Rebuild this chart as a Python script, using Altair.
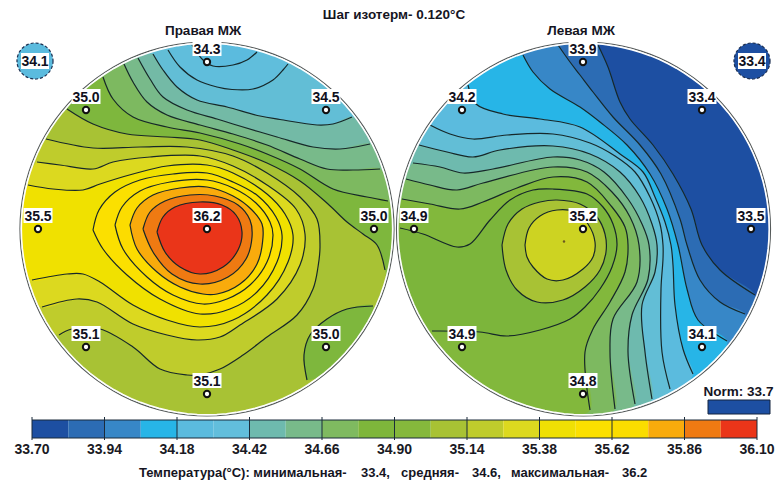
import math
import altair as alt
import pandas as pd

# ---- colour scale of the bar (20 cells, 33.70 .. 36.10, step 0.12)
BAR_COLORS = ["#1d4fa2", "#2c6cb4", "#3787c7", "#27b5e7", "#5bbbde", "#62bedc", "#6ebaae", "#78ba8a",
              "#7fba60", "#7eb63b", "#85b83c", "#a8c234", "#bfcc2c", "#dcd91f", "#efe004", "#fbe000",
              "#fadd00", "#f9ab0c", "#ef7a12", "#ea3519"]
BAR_TICKS = ["33.70", "33.94", "34.18", "34.42", "34.66", "34.90", "35.14", "35.38", "35.62", "35.86", "36.10"]

# ---- head outlines: centre x, centre y, radius
HEAD_L = (207, 227, 185.5)
HEAD_R = (583.5, 227, 185.5)

# ---- isotherms of the left disc
LA = [(192,43),(203,58),(213,64),(233,63),(247,58),(257,50)]
LB = [(168,48),(180,65),(197,78),(217,85),(232,87.5),(253,87),(273,78),(283,68),(288,62)]
LC = [(153,52),(163,68),(177,85),(197,98),(227,105),(260,114),(280,117.5),(317,123),(333,122),(352,115)]
LD = [(138,56),(150,77),(163,95),(187,108),(217,117),(233,122),(277,135),(313,145),(340,147),(370,142)]
LE = [(124,62),(133,80),(147,100),(167,113),(200,123),(233,132),(267,143),(300,157),(327,167),(353,168),(380,167)]
LF = [(103,75),(113,97),(133,115),(167,125),(200,131),(240,142),(267,152),(300,167),(333,187),(367,195),(388,199)]
LG = [(67,107),(93,122),(127,132),(167,135),(200,138),(233,148),(267,161),(300,179),(328,202),(347,220),(363,232),(377,243),(385,268)]
LH = [(46,137),(93,146),(140,145),(187,145),(233,154),(267,171),(300,195),(317,217),(320,245),(318,265),(313,287),(297,313),(267,335),(243,353),(220,367),(200,373),(187,373),(160,367),(133,345),(100,327),(72,327),(59,333)]
LI = [(37,160),(60,163),(93,167),(113,160),(150,155),(200,154),(233,164),(267,183),(296,207),(305,232),(300,263),(277,297),(240,323),(220,335),(197,338),(167,333),(133,322),(97,300),(77,297),(42,305)]
LJ = [(28,183),(53,187),(83,188),(100,182),(133,172),(167,164),(207,163),(233,171),(267,192),(285,212),(293,233),(288,260),(267,293),(233,318),(200,325),(167,318),(133,303),(100,280),(83,272),(67,272),(32,278)]
LK = [(93,228),(99,208),(115,190),(140,178),(173,172),(207,171),(233,180),(258,194),(276,215),(282,233),(277,260),(257,290),(230,307),(200,312),(160,297),(127,273),(103,247),(93,228)]
LL = [(115,223),(122,205),(140,189),(170,180),(207,178),(233,186),(256,201),(270,220),(273,233),(267,260),(250,283),(227,297),(203,302),(173,293),(147,275),(123,247),(115,223)]
LM = [(130,223),(137,206),(153,193),(180,186),(207,185),(233,194),(252,208),(262,222),(263,235),(257,262),(240,282),(217,292),(203,292),(180,285),(157,270),(137,247),(130,223)]
LN = [(143,227),(150,210),(165,199),(190,193),(215,194),(238,203),(250,218),(252,235),(246,257),(228,275),(200,282),(172,272),(153,250),(143,227)]
LO = [(157,230),(163,215),(175,205),(200,200),(222,203),(236,213),(242,230),(238,248),(223,265),(200,272),(180,265),(165,250),(157,230)]
LP = [(307,378),(304,353),(310,333),(327,317),(347,307),(373,304)]

# ---- isotherms of the right disc
RP = [(598,43),(608,65),(620,100),(630,117),(653,143),(673,172),(691,207),(702,243),(720,268),(755,293)]
RQ = [(558,43),(570,60),(580,73),(593,90),(613,115),(640,143),(661,172),(680,217),(687,243),(700,278),(720,300),(745,312)]
RR = [(523,53),(533,70),(550,87),(580,105),(600,120),(627,143),(650,172),(667,207),(678,243),(687,287),(698,318),(727,339)]
RS = [(468,83),(476,102),(503,112),(540,117),(580,125),(620,152),(643,170),(655,195),(665,220),(671,243),(673,263),(675,303),(683,347),(693,372)]
RT = [(430,123),(450,132),(473,137),(507,133),(553,132),(590,141),(615,154),(635,170),(650,195),(660,222),(663,243),(663,257),(661,287),(662,350),(670,387)]
RU = [(419,143),(447,150),(473,155),(500,148),(553,144),(590,152),(620,170),(640,195),(652,222),(657,243),(655,270),(642,303),(645,350),(652,397)]
RV = [(413,161),(440,165),(463,171),(493,167),(553,155),(580,158),(604,170),(628,197),(642,222),(649,243),(648,277),(632,313),(628,350),(635,402)]
RW = [(406,177),(430,183),(457,188),(483,181),(553,165),(587,170),(612,190),(630,215),(639,243),(637,280),(613,317),(610,350),(615,407)]
RX = [(402,197),(430,202),(460,207),(483,200),(517,186),(553,175),(587,180),(612,205),(625,225),(628,243),(625,270),(610,300),(593,327),(585,350),(590,408)]
RY = [(400,226),(423,232),(457,245),(470,242),(490,218),(510,198),(533,188),(553,187),(587,192),(603,205),(613,222),(617,243),(612,265),(600,287),(585,305),(570,317),(540,328),(507,334),(480,330),(432,329)]
RZ = [(502,243),(508,222),(522,207),(540,200),(557,198),(580,202),(597,215),(605,232),(606,250),(600,268),(585,285),(563,298),(537,300),(517,288),(506,268),(502,243)]
RI = [(525,243),(529,226),(540,214),(557,208),(575,210),(588,222),(595,240),(593,255),(583,267),(563,278),(547,277),(533,265),(527,255),(525,243)]

# (isotherm, colour of the side it encloses), painted in order
BANDS_L = [(LA,"#60bedc"),(LB,"#62bed6"),(LC,"#73baa6"),(LD,"#78ba8a"),(LE,"#7db960"),(LF,"#7eb73d"),
           (LG,"#a8c234"),(LH,"#bfcc2c"),(LI,"#dcd91f"),(LJ,"#f0e100"),(LK,"#fbe000"),(LL,"#fcdc00"),
           (LM,"#f9ab0c"),(LN,"#ef7a12"),(LO,"#ea3519"),(LP,"#7eb73d")]
BASE_L = "#5bbbde"
BANDS_R = [(RP,"#2c6cb4"),(RQ,"#3787c7"),(RR,"#27b5e7"),(RS,"#5bbbde"),(RT,"#62bed6"),(RU,"#6ebaae"),
           (RV,"#78ba8a"),(RW,"#7db960"),(RX,"#82b83c"),(RY,"#7cb53b"),(RZ,"#a8c234"),(RI,"#cdd322")]
BASE_R = "#1d4fa2"

# ---- sensors
SENS_X = [207,86,326,38,207,374,86,326,207,583,462,702,414,583,751,462,702,583]
SENS_Y = [60,108,108,227,227,227,345,345,392,60,108,108,227,227,227,345,345,392]
SENS_T = ["34.3","35.0","34.5","35.5","36.2","35.0","35.1","35.0","35.1",
          "33.9","34.2","33.4","34.9","35.2","33.5","34.9","34.1","34.8"]

XS = alt.Scale(domain=[8, 775], range=[0, 767])
YS = alt.Scale(domain=[8, 476], range=[0, 468])
W, H = 767, 468
def X(f="x"): return alt.X(f"{f}:Q", scale=XS, axis=None, title=None)
def Y(f="y"): return alt.Y(f"{f}:Q", scale=YS, axis=None, title=None)

def frame(pts):
    return pd.DataFrame({"x": [p[0] for p in pts], "y": [p[1] for p in pts], "i": range(len(pts))})

def arc(head, a0, a1, step=3):
    cx, cy, r = head
    n = max(2, int(abs(a1 - a0) / step))
    return [(cx + r * math.cos(math.radians(a0 + (a1 - a0) * k / n)),
             cy + r * math.sin(math.radians(a0 + (a1 - a0) * k / n))) for k in range(n + 1)]

def ang(head, p):
    return math.degrees(math.atan2(p[1] - head[1], p[0] - head[0]))

def fill_layer(pts, color):
    return alt.Chart(frame(pts)).mark_line(fill=color, stroke=color, strokeWidth=0.5, interpolate="catmull-rom").encode(
        x=X(), y=Y(), order="i:Q")

def iso_layer(pts):
    return alt.Chart(frame(pts)).mark_line(color="#16282a", strokeWidth=1.2, interpolate="catmull-rom").encode(
        x=X(), y=Y(), order="i:Q")

def disc(head, base, bands):
    out = [alt.Chart(frame(arc(head, 0, 360))).mark_line(fill=base, stroke=base, strokeWidth=0.5).encode(x=X(), y=Y(), order="i:Q")]
    for line, color in bands:
        if line[0] == line[-1]:
            poly = line
        else:
            a0, a1 = ang(head, line[-1]), ang(head, line[0])
            if a1 <= a0:
                a1 += 360
            poly = list(line) + arc(head, a0, a1)[1:-1] + [line[0]]
        out.append(fill_layer(poly, color))
    for line, _ in bands:
        out.append(iso_layer(line))
    wide = (head[0], head[1], head[2] + 1.5)
    out.append(alt.Chart(frame(arc(wide, 0, 360))).mark_line(color="#555a5a", strokeWidth=1.2).encode(x=X(), y=Y(), order="i:Q"))
    out.append(alt.Chart(frame(arc((head[0], head[1], head[2] + 0.2), 0, 360))).mark_line(color="#ffffff", strokeWidth=1.6).encode(x=X(), y=Y(), order="i:Q"))
    return out

layers = disc(HEAD_L, BASE_L, BANDS_L) + disc(HEAD_R, BASE_R, BANDS_R)

# sensors
s = pd.DataFrame({"x": SENS_X, "y": SENS_Y, "t": SENS_T})
s["x0"] = s.x - 14.5; s["x1"] = s.x + 14.5; s["y0"] = s.y - 21; s["y1"] = s.y - 6; s["ty"] = s.y - 8.5
layers.append(alt.Chart(s).mark_rect(color="white").encode(x=X("x0"), x2="x1:Q", y=Y("y0"), y2="y1:Q"))
layers.append(alt.Chart(s).mark_point(shape="circle", size=40, filled=True, fill="white", stroke="#111", strokeWidth=2, opacity=1).encode(x=X(), y=Y()))
layers.append(alt.Chart(s).mark_text(font="Liberation Sans", fontWeight="bold", fontSize=14, color="#101020", baseline="alphabetic").encode(x=X(), y=Y("ty"), text="t:N"))

# centre speck
layers.append(alt.Chart(pd.DataFrame({"x": [564], "y": [239.5]})).mark_point(shape="circle", size=6, filled=True, color="#6b5a20", opacity=1).encode(x=X(), y=Y()))

# min / max badges
badge = pd.DataFrame({"x": [35, 752], "y": [59, 59], "c": ["#5bbbde", "#1d4fa2"], "t": ["34.1", "33.4"]})
badge["x0"] = badge.x - 14; badge["x1"] = badge.x + 14; badge["y0"] = badge.y - 8; badge["y1"] = badge.y + 8; badge["ty"] = badge.y + 5
layers.append(alt.Chart(badge).mark_point(shape="circle", size=1300, filled=True, stroke="#1d2f50", strokeWidth=1.2, strokeDash=[3, 2], opacity=1).encode(
    x=X(), y=Y(), fill=alt.Fill("c:N", scale=None)))
layers.append(alt.Chart(badge).mark_rect(color="white").encode(x=X("x0"), x2="x1:Q", y=Y("y0"), y2="y1:Q"))
layers.append(alt.Chart(badge).mark_text(font="Liberation Sans", fontWeight="bold", fontSize=14, color="#101020", baseline="alphabetic").encode(x=X(), y=Y("ty"), text="t:N"))

# colour bar
BAR_L, CELL = 32.0, 36.25
bar = pd.DataFrame({"x0": [BAR_L + CELL * k for k in range(20)], "x1": [BAR_L + CELL * (k + 1) for k in range(20)],
                    "y0": [418] * 20, "y1": [436] * 20, "c": BAR_COLORS})
layers.append(alt.Chart(bar).mark_rect().encode(x=X("x0"), x2="x1:Q", y=Y("y0"), y2="y1:Q", fill=alt.Fill("c:N", scale=None)))
edge = pd.DataFrame({"x0": [BAR_L, BAR_L], "x1": [BAR_L + CELL * 20] * 2, "y": [418, 436]})
layers.append(alt.Chart(edge).mark_rule(color="#1b2b3a", strokeWidth=1).encode(x=X("x0"), x2="x1:Q", y=Y()))
tk = pd.DataFrame({"x": [BAR_L + CELL * 2 * k for k in range(11)], "t": BAR_TICKS})
tk["y0"] = 415; tk["y1"] = 438; tk["ty"] = 452
layers.append(alt.Chart(tk).mark_rule(color="#1b2b3a", strokeWidth=1).encode(x=X(), y=Y("y0"), y2="y1:Q"))
layers.append(alt.Chart(tk).mark_text(font="Liberation Sans", fontWeight="bold", fontSize=14, color="#1a1a24", baseline="alphabetic").encode(x=X(), y=Y("ty"), text="t:N"))

# norm swatch
norm = pd.DataFrame({"x0": [708], "x1": [770], "y0": [398], "y1": [412]})
layers.append(alt.Chart(norm).mark_rect(fill="#1d4fa2", stroke="#14243f", strokeWidth=1).encode(x=X("x0"), x2="x1:Q", y=Y("y0"), y2="y1:Q"))

# texts
TITLES_X = [203, 581, 394, 738.5]
TITLES_Y = [33, 33, 17, 394]
TITLES_T = ["Правая МЖ", "Левая МЖ", "Шаг изотерм- 0.120°C", "Norm: 33.7"]
titles = pd.DataFrame({"x": TITLES_X, "y": TITLES_Y, "t": TITLES_T})
layers.append(alt.Chart(titles).mark_text(font="Liberation Sans", fontWeight="bold", fontSize=13.5, color="#15151f", baseline="alphabetic").encode(x=X(), y=Y(), text="t:N"))

FOOT_X = [139, 361, 401, 472, 511, 622]
FOOT_T = ["Температура(°C): минимальная-", "33.4,", "средняя-", "34.6,", "максимальная-", "36.2"]
foot = pd.DataFrame({"x": FOOT_X, "y": [475] * 6, "t": FOOT_T})
layers.append(alt.Chart(foot).mark_text(font="Liberation Sans", fontWeight="bold", fontSize=13, color="#15151f", align="left", baseline="alphabetic").encode(x=X(), y=Y(), text="t:N"))

chart = alt.layer(*layers).properties(width=W, height=H, padding=0, background="white").configure_view(stroke=None)
chart.save("out.html", embed_options={"renderer": "svg", "actions": False})
